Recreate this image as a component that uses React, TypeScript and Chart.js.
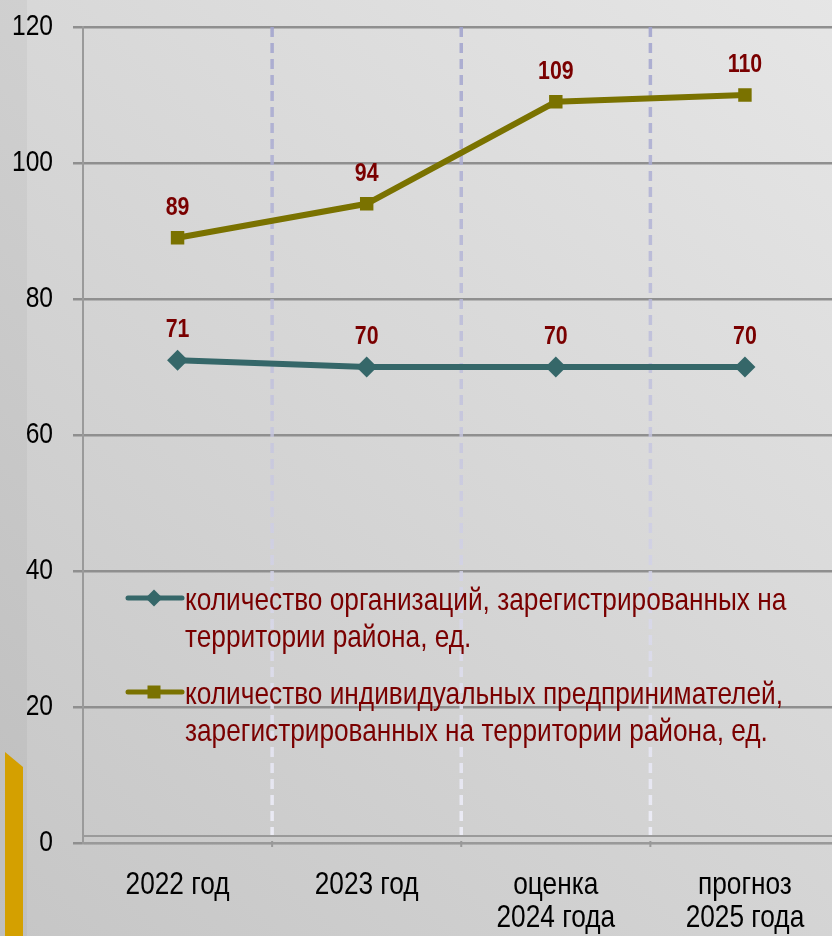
import React, { useEffect, useRef } from "react";
import { Chart, registerables } from "chart.js";

Chart.register(...registerables);

const categories: string[][] = [["2022 год"], ["2023 год"], ["оценка", "2024 года"], ["прогноз", "2025 года"]];
const orgValues = [71, 70, 70, 70];
const ipValues = [89, 94, 109, 110];
const yTicks = [0, 20, 40, 60, 80, 100, 120];
const orgLegend = ["количество организаций, зарегистрированных на", "территории района, ед."];
const ipLegend = ["количество индивидуальных предпринимателей,", "зарегистрированных на территории района, ед."];

const FONT = "'Liberation Sans', Arial, sans-serif";
const NARROW_SCALE = 0.82;
const TEAL = "#356769";
const OLIVE = "#7a7200";
const LABEL_RED = "#7a0000";

function narrowText(ctx: CanvasRenderingContext2D, text: string, x: number, y: number, align: CanvasTextAlign, font: string, color: string) {
  ctx.save();
  ctx.font = font;
  ctx.fillStyle = color;
  ctx.textAlign = align;
  ctx.textBaseline = "middle";
  ctx.translate(x, y);
  ctx.scale(NARROW_SCALE, 1);
  ctx.fillText(text, 0, 0);
  ctx.restore();
}

const bgPlugin = {
  id: "bg",
  beforeDraw(chart: any) {
    const { ctx, width, height } = chart;
    ctx.save();
    const g = ctx.createLinearGradient(0, height, width, 0);
    g.addColorStop(0, "#c6c6c6");
    g.addColorStop(0.5, "#d6d6d6");
    g.addColorStop(1, "#e6e6e6");
    ctx.fillStyle = g;
    ctx.fillRect(0, 0, width, height);
    ctx.fillStyle = "rgba(0,0,0,0.035)";
    ctx.fillRect(0, 0, 27, height);
    ctx.fillStyle = "#d4a000";
    ctx.beginPath();
    ctx.moveTo(5, 752);
    ctx.lineTo(23, 767);
    ctx.lineTo(23, height);
    ctx.lineTo(5, height);
    ctx.closePath();
    ctx.fill();
    ctx.restore();
  },
  beforeDatasetsDraw(chart: any) {
    const { ctx, chartArea, scales } = chart;
    const x = scales.x;
    ctx.save();
    for (let i = 0; i < categories.length - 1; i++) {
      const px = (x.getPixelForValue(i) + x.getPixelForValue(i + 1)) / 2;
      const g = ctx.createLinearGradient(0, chartArea.top, 0, chartArea.bottom);
      g.addColorStop(0, "rgba(160,162,205,0.85)");
      g.addColorStop(0.55, "rgba(200,200,225,0.8)");
      g.addColorStop(1, "rgba(240,240,250,0.9)");
      ctx.strokeStyle = g;
      ctx.lineWidth = 3.5;
      ctx.setLineDash([10, 6]);
      ctx.beginPath();
      ctx.moveTo(px, chartArea.top);
      ctx.lineTo(px, chartArea.bottom - 7);
      ctx.stroke();
      ctx.setLineDash([]);
      ctx.strokeStyle = "#999";
      ctx.lineWidth = 2;
      ctx.beginPath();
      ctx.moveTo(px, chartArea.bottom - 2);
      ctx.lineTo(px, chartArea.bottom + 4);
      ctx.stroke();
    }
    ctx.strokeStyle = "#9a9a9a";
    ctx.lineWidth = 2;
    ctx.beginPath();
    ctx.moveTo(chartArea.left, chartArea.bottom - 7);
    ctx.lineTo(chartArea.right, chartArea.bottom - 7);
    ctx.stroke();
    ctx.restore();
  },
  afterDatasetsDraw(chart: any) {
    const { ctx, scales, chartArea } = chart;
    yTicks.forEach((v) => {
      narrowText(ctx, String(v), chartArea.left - 30, scales.y.getPixelForValue(v), "right", `30px ${FONT}`, "#000");
    });
    categories.forEach((lines, i) => {
      const cx = scales.x.getPixelForValue(i);
      lines.forEach((ln, li) => {
        narrowText(ctx, ln, cx, chartArea.bottom + 42 + li * 33, "center", `32px ${FONT}`, "#000");
      });
    });
    chart.data.datasets.forEach((ds: any, di: number) => {
      const meta = chart.getDatasetMeta(di);
      meta.data.forEach((pt: any, i: number) => {
        narrowText(ctx, String(ds.data[i]), pt.x, pt.y - 30, "center", `bold 26px ${FONT}`, LABEL_RED);
      });
    });
    const items = [
      { lines: orgLegend, color: TEAL, style: "rectRot", r: 8.5, y: 598 },
      { lines: ipLegend, color: OLIVE, style: "rect", r: 9, y: 692 },
    ];
    ctx.save();
    items.forEach((it) => {
      ctx.strokeStyle = it.color;
      ctx.lineWidth = 5;
      ctx.lineCap = "round";
      ctx.beginPath();
      ctx.moveTo(128, it.y);
      ctx.lineTo(182, it.y);
      ctx.stroke();
      ctx.fillStyle = it.color;
      ctx.beginPath();
      if (it.style === "rectRot") {
        ctx.moveTo(154, it.y - it.r);
        ctx.lineTo(154 + it.r, it.y);
        ctx.lineTo(154, it.y + it.r);
        ctx.lineTo(154 - it.r, it.y);
        ctx.closePath();
      } else {
        ctx.rect(154 - 6.5, it.y - 6.5, 13, 13);
      }
      ctx.fill();
      it.lines.forEach((ln, li) => {
        narrowText(ctx, ln, 185, it.y + 3 + li * 37, "left", `32px ${FONT}`, LABEL_RED);
      });
    });
    ctx.restore();
  },
};

export default function App() {
  const ref = useRef<HTMLCanvasElement | null>(null);
  useEffect(() => {
    if (!ref.current) return;
    const chart = new Chart(ref.current, {
      type: "line",
      data: {
        labels: categories.map((c) => c.join(" ")),
        datasets: [
          {
            label: orgLegend.join(" "),
            data: orgValues,
            borderColor: TEAL,
            backgroundColor: TEAL,
            borderWidth: 6,
            pointStyle: "rectRot",
            pointRadius: 10.5,
            pointBorderWidth: 0,
            tension: 0,
          },
          {
            label: ipLegend.join(" "),
            data: ipValues,
            borderColor: OLIVE,
            backgroundColor: OLIVE,
            borderWidth: 6,
            pointStyle: "rect",
            pointRadius: 9.5,
            pointBorderWidth: 0,
            tension: 0,
          },
        ],
      },
      options: {
        responsive: false,
        animation: false,
        layout: { padding: { top: 27, right: 7, bottom: 0, left: 0 } },
        plugins: { legend: { display: false }, tooltip: { enabled: false } },
        scales: {
          x: {
            type: "category",
            offset: true,
            grid: { display: false, drawTicks: false },
            border: { display: true, color: "#999999", width: 2 },
            ticks: { display: false },
            afterFit(scale: any) {
              scale.height = 93;
            },
          },
          y: {
            min: yTicks[0],
            max: yTicks[yTicks.length - 1],
            grid: { color: "#8f8f8f", lineWidth: 2.5, tickLength: 10 },
            border: { display: true, color: "#9a9a9a", width: 2 },
            ticks: { stepSize: 20, display: false },
            afterFit(scale: any) {
              scale.width = 83;
            },
          },
        },
      },
      plugins: [bgPlugin],
    });
    return () => chart.destroy();
  }, []);
  return (
    <div style={{ position: "fixed", left: 0, top: 0, width: 832, height: 936, overflow: "hidden" }}>
      <canvas ref={ref} width={850} height={936} style={{ width: 850, height: 936, display: "block" }} />
    </div>
  );
}
